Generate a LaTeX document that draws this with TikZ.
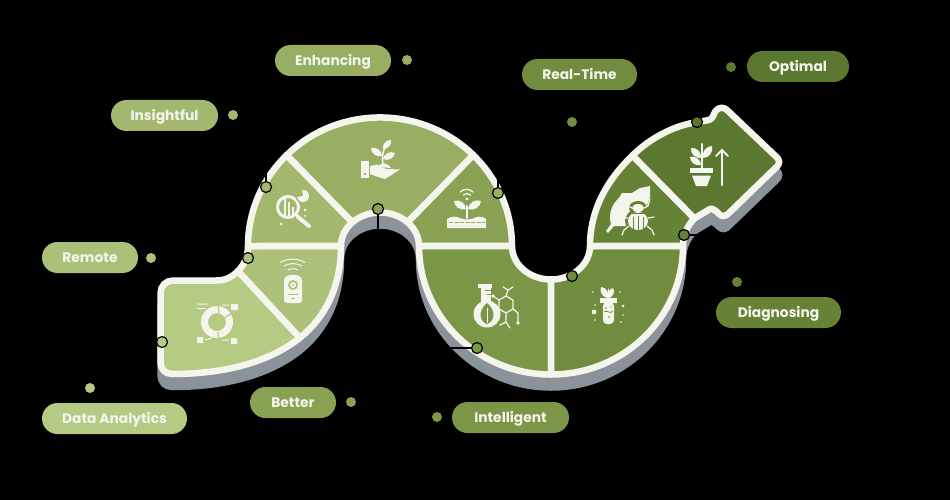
\documentclass[tikz,border=0pt]{standalone}
\usepackage{fontspec}
\setmainfont{Poppins}
\usetikzlibrary{shapes.misc}
\definecolor{bord}{HTML}{F4F6EE}
\definecolor{shadowc}{HTML}{8A929A}
\definecolor{ca}{HTML}{B5CA83}
\definecolor{cb}{HTML}{ABC179}
\definecolor{cc}{HTML}{A2B86E}
\definecolor{cd}{HTML}{98AE62}
\definecolor{ce}{HTML}{88A153}
\definecolor{cf}{HTML}{7C9648}
\definecolor{cg}{HTML}{718C3F}
\definecolor{ch}{HTML}{668236}
\definecolor{ci}{HTML}{5C7830}
\tikzset{
  x=1pt,y=-1pt,
  segment/.style={draw=bord,line width=6.5pt,line join=round},
  shadowpart/.style={fill=shadowc,draw=shadowc,line width=6.5pt,line join=round},
  pill/.style={rounded rectangle,minimum height=31pt,inner xsep=0pt,inner ysep=0pt,text=bord,text height=9.6pt,text depth=0pt,font=\fontsize{13.8}{16}\selectfont\bfseries},
  anchorpt/.style={circle,draw=black,line width=1.2pt,minimum size=11pt,inner sep=0pt},
  labeldot/.style={circle,minimum size=10pt,inner sep=0pt},
  leader/.style={draw=black,line width=1.2pt},
  ico/.style={fill=bord},
  icl/.style={draw=bord,line width=1.5pt,line cap=round,line join=round},
  bigarc/.style={x radius=132pt,y radius=128.5pt},
  smallarc/.style={x radius=39pt,y radius=33.5pt},
}
\newcommand\myleaf[2]{\fill[ico] (#1) to[bend left=55] (#2) to[bend left=55] (#1);}
\def\segA{(299.9,337.8) .. controls (271.3,360.5) and (228.5,374) .. (172,374) .. controls (165,374) and (160.5,369) .. (160.5,362) -- (160.5,293) .. controls (160.5,286) and (166,280.5) .. (173,280.5) -- (216,280.5) .. controls (226,280.5) and (232,277) .. (238,271) -- cycle}
\def\segB{(248,246) -- (341,246) .. controls (341,283) and (328,315) .. (299.9,337.8) -- (238,271) .. controls (243,266) and (248,258) .. (248,246) -- cycle}
\def\segC{(248,246) arc[start angle=180,end angle=135,bigarc] -- (352.4,222.3) arc[start angle=135,end angle=180,smallarc] -- cycle}
\def\segD{(286.7,155.1) arc[start angle=135,end angle=45,bigarc] -- (407.6,222.3) arc[start angle=45,end angle=135,smallarc] -- cycle}
\def\segE{(473.3,155.1) arc[start angle=45,end angle=0,bigarc] -- (419,246) arc[start angle=0,end angle=45,smallarc] -- cycle}
\def\segF{(419,246) arc[start angle=180,end angle=270,bigarc] -- (551,279.5) arc[start angle=270,end angle=180,smallarc] -- cycle}
\def\segG{(551,374.5) arc[start angle=270,end angle=360,bigarc] -- (590,246) arc[start angle=360,end angle=270,smallarc] -- cycle}
\def\segH{(590,246) .. controls (590,210) and (607,180) .. (632.5,155.5) -- (694.4,218.4) arc[start angle=135,end angle=180,radius=39pt] -- cycle}
\def\segI{(632.5,155.5) .. controls (650,138) and (675,125) .. (698,122) -- (709,120) .. controls (714,118) and (713,114) .. (716,110.5) .. controls (719,107) and (724,107) .. (727,110) -- (776.5,157) .. controls (780,160) and (780,164) .. (776.5,167) -- (729,213) .. controls (725,217) and (722,217) .. (719,214) .. controls (716,211) and (713,208) .. (710,209) -- (694.4,218.4) -- cycle}
\begin{document}
\begin{tikzpicture}
\useasboundingbox (0,0) rectangle (950,500);
\fill[black] (0,0) rectangle (950,500);
% shadow
\begin{scope}[shift={(0,13)}]
\path[shadowpart] \segA;
\path[shadowpart] \segB;
\path[shadowpart] \segC;
\path[shadowpart] \segD;
\path[shadowpart] \segE;
\path[shadowpart] \segF;
\path[shadowpart] \segG;
\path[shadowpart] \segH;
\path[shadowpart] \segI;
\end{scope}
% segments
\path[segment,fill=ca] \segA;
\path[segment,fill=cb] \segB;
\path[segment,fill=cc] \segC;
\path[segment,fill=cd] \segD;
\path[segment,fill=ce] \segE;
\path[segment,fill=cf] \segF;
\path[segment,fill=cg] \segG;
\path[segment,fill=ch] \segH;
\path[segment,fill=ci] \segI;
% icon 1: donut
\fill[ico,even odd rule] (217,322) circle[radius=16pt] (217,322) circle[radius=9pt];
\draw[ca,line width=1.2pt] (218,305) -- (219,313) (224,318) -- (234,312) (218,332) -- (219,340);
\fill[ico] (231,304) rectangle (238,310) (197,337) rectangle (203,343) (231,338) rectangle (237,344);
\draw[icl,line width=1pt] (197,304) -- (208,304) (197,308.5) -- (205,308.5) (205,340) -- (212,338) (222,340) -- (229,340) (222,305) -- (229,305);
% icon 2: remote camera
\fill[ico,rounded corners=3pt] (284,283) -- (284,303) -- (302,303) -- (302,283) .. controls (302,273) and (284,273) .. (284,283) -- cycle;
\fill[cb] (293,285) circle[radius=5pt];
\fill[ico] (293,285) circle[radius=3pt];
\fill[cb] (293,285) circle[radius=1.2pt];
\draw[cb,line width=.8pt] (288,294) -- (298,294) (291,298) -- (295,298);
\draw[icl,line width=1pt] (298,270) arc[start angle=60,end angle=120,radius=10pt];
\draw[icl,line width=1pt] (302,266) arc[start angle=60,end angle=120,radius=18pt];
\draw[icl,line width=1pt] (305,262.5) arc[start angle=60,end angle=120,radius=25pt];
% icon 3: magnifier
\draw[bord,line width=3pt] (288,207) circle[radius=10.5pt];
\draw[bord,line width=2pt] (285,216) -- (285,197) (289,216) -- (289,202) (293,216) -- (293,207) (297,216) -- (297,211);
\draw[bord,line width=4pt,line cap=round] (298,217) -- (309,226);
\fill[cc] (303,196) circle[radius=7.5pt];
\fill[ico] (303,196) -- ++(-1,-6) arc[start angle=100,end angle=-170,radius=6pt] -- cycle;
\fill[ico] (281,224) circle[radius=1.5pt] (305,210) circle[radius=1.5pt] (305,216) circle[radius=1.2pt] (279,192) circle[radius=.7pt];
% icon 4: hand and plant
\fill[ico] (361,161) rectangle (369,178);
\fill[cd] (365,174) circle[radius=1.3pt];
\fill[ico] (370,166) -- (377,164.5) -- (386,169) -- (400,169.5) -- (385,179) -- (378,177) -- (370,174) -- cycle;
\fill[ico] (378,167) .. controls (380,162) and (388,162) .. (391,168) -- cycle;
\draw[icl] (383,165) .. controls (382,158) and (382,152) .. (386,146);
\myleaf{382,156}{371,148}
\myleaf{383,149}{391,140}
\myleaf{383,159}{395,153}
% icon 5: sprout and wifi
\fill[ico] (447,219) .. controls (452,216) and (456,216) .. (460,218) .. controls (464,220) and (470,220) .. (474,218) .. controls (478,216) and (482,216) .. (486,219) -- (486,228) -- (447,228) -- cycle;
\draw[cd,line width=1pt,dash pattern=on 4pt off 1.5pt] (449,222.5) -- (485,222.5);
\draw[icl,line width=2pt] (467,218) -- (467,206);
\myleaf{466,209}{454,201}
\myleaf{481,201}{468,209}
\fill[ico] (467,199) circle[radius=1.6pt];
\draw[icl,line width=1.3pt] (470.5,195) arc[start angle=45,end angle=135,radius=5pt];
\draw[icl,line width=1.3pt] (473,192) arc[start angle=45,end angle=135,radius=9pt];
% icon 6: flask and molecule
\draw[icl,line width=1.2pt] (499,300) -- (506,296) -- (513,300) -- (513,309) -- (506,313) -- (499,309) -- cycle;
\draw[icl,line width=1.2pt] (499,300) -- (493,296) (506,296) -- (508,290) (508,290) -- (503,287) (508,290) -- (513,287) (513,309) -- (518,313) -- (518,322) (506,313) -- (506,322) -- (500,325) (506,322) -- (510,328);
\fill[ico] (518,323) circle[radius=1.8pt] (493,296) circle[radius=1.8pt];
\fill[ico] (478,284) rectangle (492,288);
\fill[ico] (481,288) rectangle (491,305);
\fill[ico] (487,314) circle[radius=13.5pt];
\draw[cf,line width=.8pt] (485,290) -- (491,290) (487,294) -- (491,294);
\fill[cf] (487,303) .. controls (477,311) and (480,322) .. (487,324) .. controls (494,322) and (497,311) .. (487,303) -- cycle;
\draw[bord,line width=.8pt] (487,308) -- (487,323);
% icon 7: test tube
\fill[ico] (600,298) rectangle (617,302.5);
\fill[ico,rounded corners=4pt] (603,302) -- (603,324) -- (614,324) -- (614,302) -- cycle;
\draw[cg,line width=.8pt] (604,312) .. controls (607,309) and (610,315) .. (613,311);
\fill[cg] (606,308) circle[radius=.8pt] (611,307) circle[radius=.7pt] (609,317) circle[radius=.8pt];
\draw[icl,line width=1pt] (608.5,298) -- (608.5,289);
\myleaf{608,298}{601,287}
\myleaf{609,298}{613,288}
\fill[ico] (594,312) circle[radius=2.4pt] (593,292) circle[radius=.9pt] (620,292) circle[radius=.9pt] (623,306) circle[radius=1.5pt] (595,305) circle[radius=.9pt] (623,315) circle[radius=.9pt] (595,320) circle[radius=.9pt] (621,322) circle[radius=.9pt];
% icon 8: leaf and beetle
\fill[ico] (606,231) -- (611,224) .. controls (608,214) and (612,204) .. (619,198) -- (622,193) -- (632,193) -- (640,188) -- (650,186) -- (650,197) -- (646,208) -- (640,222) -- (625,226) -- (614,226) -- (608,233) -- cycle;
\fill[ch] (638,221) ellipse[x radius=13,y radius=12];
\fill[ch] (638,208) ellipse[x radius=9,y radius=7];
\draw[icl,line width=1.2pt] (626,199) -- (628,206) -- (632,208) (650,199) -- (648,206) -- (644,208) (628,218) -- (622,217) (648,218) -- (654,217) (629,226) -- (624,230) -- (622,235) (647,226) -- (652,230) -- (654,235);
\fill[ico] (638,221) ellipse[x radius=10,y radius=9];
\fill[ico] (638,208) ellipse[x radius=6,y radius=4];
\draw[ch,line width=1pt] (633,217) -- (633,229) (638,216) -- (638,230) (643,217) -- (643,229);
\draw[ch,line width=.8pt] (628,213.5) -- (648,213.5);
% icon 9: pot and arrow
\fill[ico] (690,168) rectangle (713,173);
\fill[ico] (692,175.5) -- (711,175.5) -- (707,186) -- (696,186) -- cycle;
\draw[icl,line width=2pt] (701.5,168) -- (701.5,144);
\myleaf{701,165}{690,157}
\myleaf{701,158}{691,148}
\myleaf{703,158}{712,146}
\draw[icl,line width=2.2pt] (722,185) -- (722,150);
\draw[icl,line width=2pt] (716,156) -- (722,150) -- (728,156);
% labels
\node[pill,fill=ca,minimum width=145pt] (l1) at (114.5,418.5) {Data Analytics};
\node[pill,fill=cb,minimum width=96pt] (l2) at (90,257.5) {Remote};
\node[pill,fill=cc,minimum width=107pt] (l3) at (164.5,115.5) {Insightful};
\node[pill,fill=cd,minimum width=116pt] (l4) at (333,60.5) {Enhancing};
\node[pill,fill=ce,minimum width=86pt] (l5) at (293,402.5) {Better};
\node[pill,fill=cf,minimum width=117pt] (l6) at (510.5,417.5) {Intelligent};
\node[pill,fill=cg,minimum width=115pt] (l7) at (579.5,74.5) {Real-Time};
\node[pill,fill=ch,minimum width=125pt] (l8) at (778.5,312.5) {Diagnosing};
\node[pill,fill=ci,minimum width=102pt] (l9) at (798,66.5) {Optimal};
% label dots
\node[labeldot,fill=ca] (d1) at (90,388) {};
\node[labeldot,fill=cb] (d2) at (151,258) {};
\node[labeldot,fill=cc] (d3) at (233,115) {};
\node[labeldot,fill=cd] (d4) at (407,60) {};
\node[labeldot,fill=ce] (d5) at (351,402) {};
\node[labeldot,fill=cf] (d6) at (437,417) {};
\node[labeldot,fill=cg] (d7) at (572,122) {};
\node[labeldot,fill=ch] (d8) at (737,282) {};
\node[labeldot,fill=ci] (d9) at (731,67) {};
% anchor points
\node[anchorpt,fill=ca] (c1) at (162,342) {};
\node[anchorpt,fill=cb] (c2) at (248,258) {};
\node[anchorpt,fill=cc] (c3) at (266,187) {};
\node[anchorpt,fill=cd] (c4) at (498,193) {};
\node[anchorpt,fill=ce] (c5) at (378,209) {};
\node[anchorpt,fill=cf] (c6) at (477,348) {};
\node[anchorpt,fill=cg] (c7) at (572,276) {};
\node[anchorpt,fill=ch] (c8) at (684,235) {};
\node[anchorpt,fill=ci] (c9) at (697,122) {};
% leaders
\draw[leader] (c1) -| (d1);
\draw[leader] (c2) -- (d2);
\draw[leader] (c3) |- (d3);
\draw[leader] (c4) |- (d4);
\draw[leader] (c5) |- (d5);
\draw[leader] (c6) -| (d6);
\draw[leader] (c7) -- (d7);
\draw[leader] (c8) -| (d8);
\draw[leader] (c9) |- (d9);
\end{tikzpicture}
\end{document}
